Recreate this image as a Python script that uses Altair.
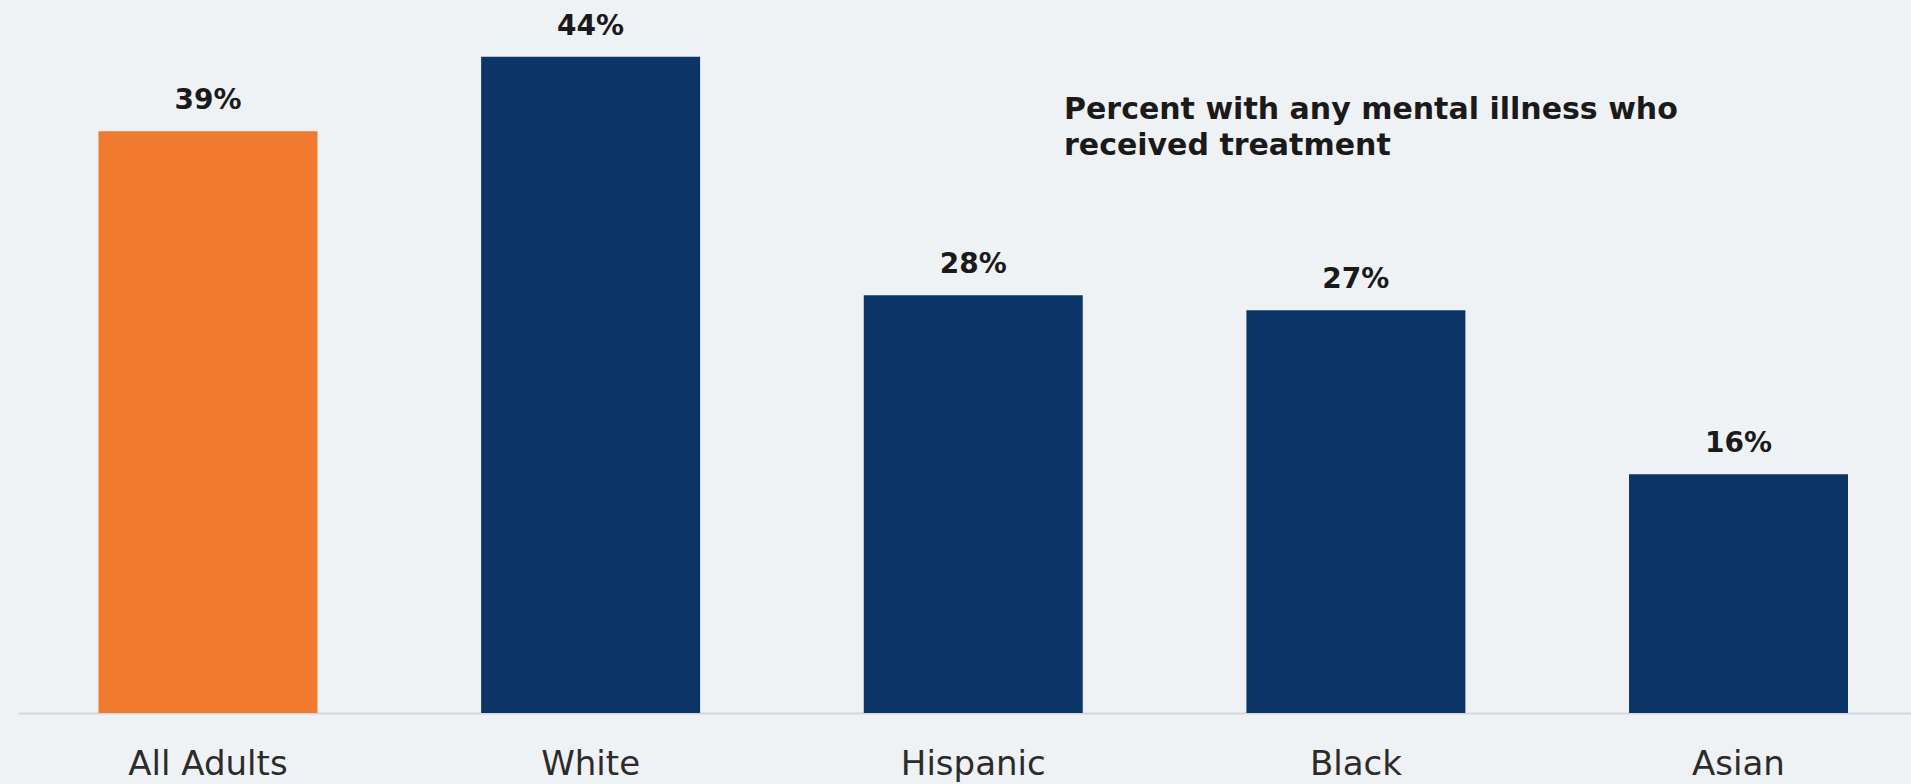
import altair as alt
import pandas as pd

categories = ["All Adults", "White", "Hispanic", "Black", "Asian"]
values = [39, 44, 28, 27, 16]
labels = ["39%", "44%", "28%", "27%", "16%"]
colors = ["#F07A2E", "#0B3566", "#0B3566", "#0B3566", "#0B3566"]
note = ["Percent with any mental illness who", "received treatment"]

df = pd.DataFrame({"cat": categories, "val": values, "label": labels, "color": colors})

FONT = "DejaVu Sans"

x = alt.X(
    "cat:N",
    sort=categories,
    title=None,
    scale=alt.Scale(paddingInner=0.4277, paddingOuter=0.1875, align=0.561),
    axis=alt.Axis(
        labelAngle=0,
        labelFontSize=34,
        labelFont=FONT,
        labelColor="#2b2b2b",
        labelBaseline="middle",
        labelPadding=51,
        ticks=False,
        tickSize=0,
        domainColor="#D3D7DC",
        domainWidth=2,
        grid=False,
    ),
)
y = alt.Y("val:Q", scale=alt.Scale(domain=[0, 47.8]), axis=None)

base = alt.Chart(df)
bars = base.mark_bar().encode(x=x, y=y, color=alt.Color("color:N", scale=None))
vals = base.mark_text(
    dy=-30, fontWeight="bold", fontSize=28, font=FONT, baseline="middle", color="#1a1a1a"
).encode(x=x, y=y, text="label:N")

annot = alt.Chart(pd.DataFrame({"a": [0]})).mark_text(
    text=note,
    align="left",
    baseline="top",
    fontSize=30,
    fontWeight="bold",
    font=FONT,
    lineHeight=36,
    color="#1a1a1a",
).encode(x=alt.value(1046), y=alt.value(95))

chart = (
    alt.layer(bars, vals, annot)
    .properties(
        width=1893,
        height=713,
        background="#EFF2F5",
        padding={"left": 18, "top": 0, "right": 0, "bottom": 71},
        autosize="none",
    )
    .configure_view(stroke=None)
)

chart.save("out.html", embed_options={"renderer": "svg", "actions": False})
